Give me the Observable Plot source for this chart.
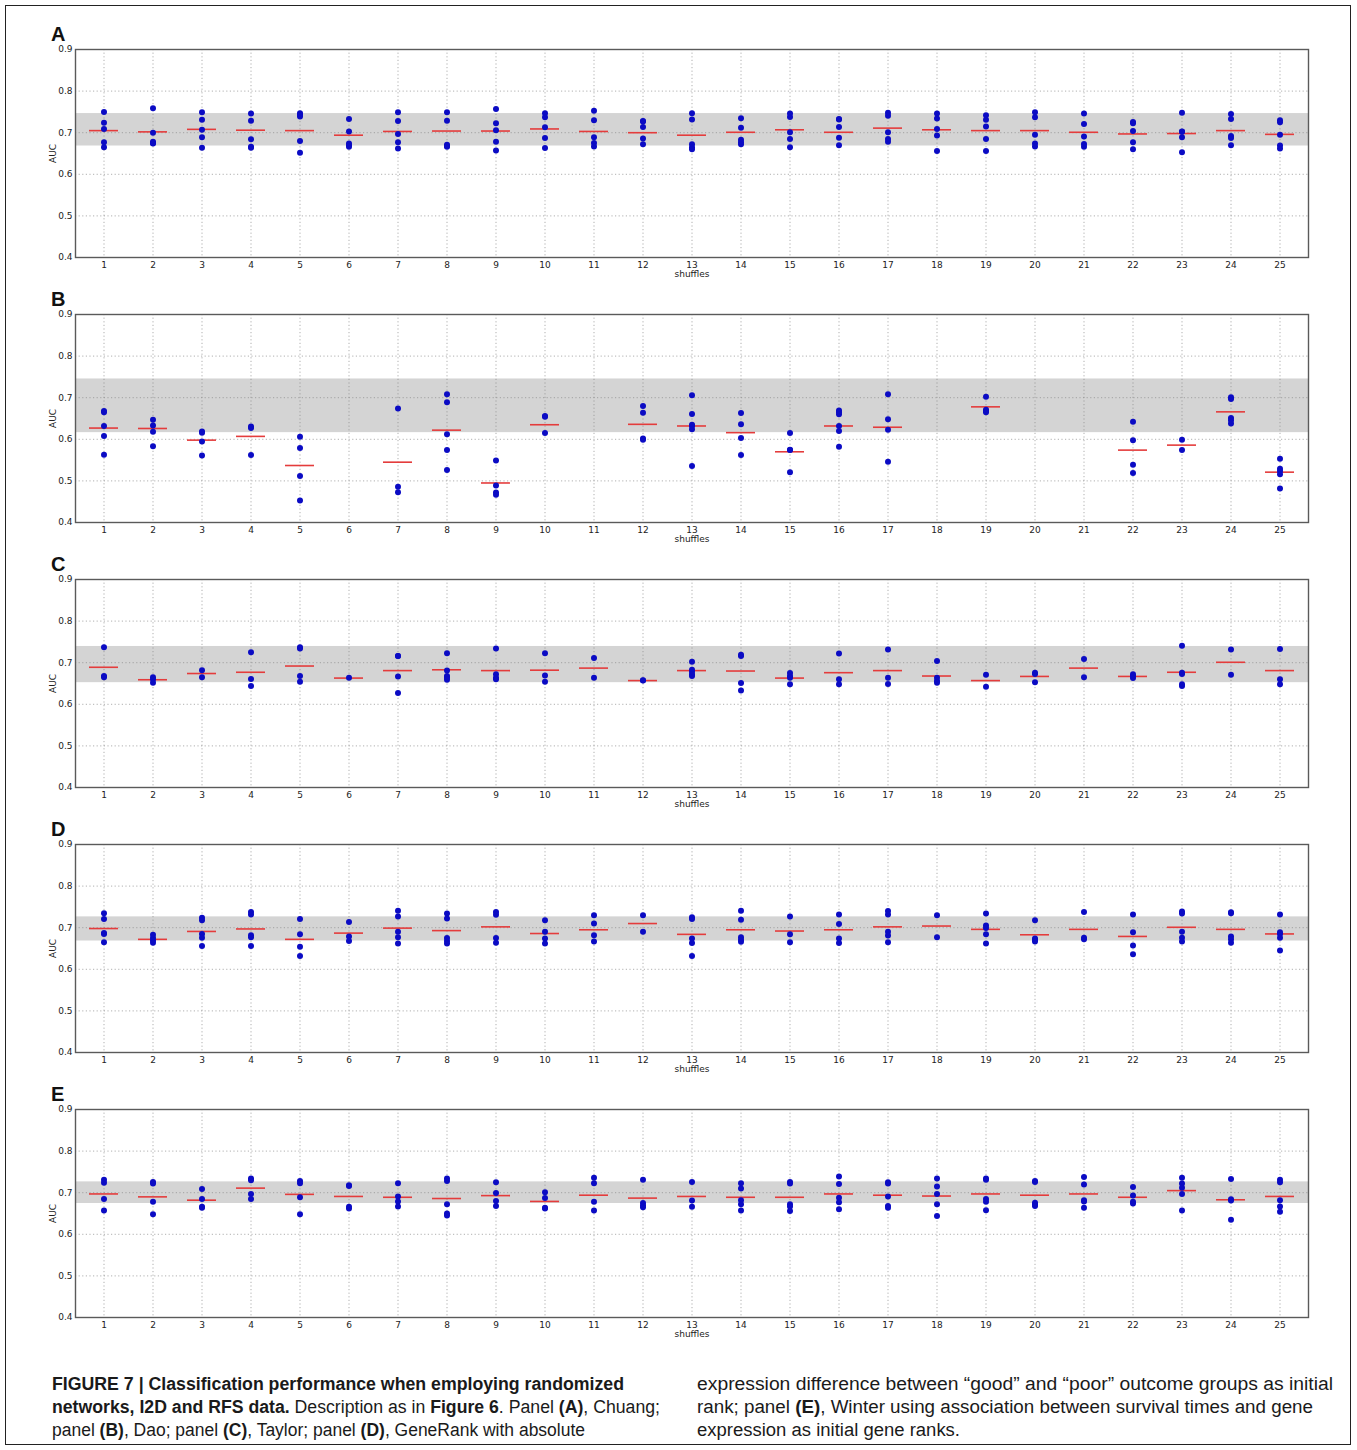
<!DOCTYPE html>
<html>
<head>
<meta charset="utf-8">
<script src="https://cdn.jsdelivr.net/npm/d3@7"></script>
<script src="https://cdn.jsdelivr.net/npm/@observablehq/plot@0.6"></script>
<style>
  body { margin: 0; background: #fff; }
  #page { position: relative; width: 1357px; height: 1450px; overflow: hidden; background: #fff; }
  .border { position: absolute; left: 5px; top: 5px; width: 1344px; height: 1438px; border: 1px solid #222; }
  .plabel { position: absolute; left: 51px; font: bold 20px/20px "Liberation Sans", Arial, sans-serif; color: #111; }
  .panel { position: absolute; left: 0; }
  .cap { position: absolute; font-family: "Liberation Sans Narrow", "Liberation Sans", Arial, sans-serif; font-size: 18px; line-height: 23px; color: #1a1a1a; }
  .ln { white-space: nowrap; }
  .ln span { display: inline-block; transform-origin: 0 50%; }
</style>
</head>
<body>
<div id="page">
  <div class="border"></div>
  <div class="cap" style="left:52px; top:1373px;">
    <div class="ln" data-w="572"><span><b>FIGURE 7 | Classification performance when employing randomized</b></span></div>
    <div class="ln" data-w="608"><span><b>networks, I2D and RFS data.</b> Description as in <b>Figure 6</b>. Panel <b>(A)</b>, Chuang;</span></div>
    <div class="ln" data-w="533"><span>panel <b>(B)</b>, Dao; panel <b>(C)</b>, Taylor; panel <b>(D)</b>, GeneRank with absolute</span></div>
  </div>
  <div class="cap" style="left:697px; top:1373px;">
    <div class="ln" data-w="636"><span>expression difference between “good” and “poor” outcome groups as initial</span></div>
    <div class="ln" data-w="616"><span>rank; panel <b>(E)</b>, Winter using association between survival times and gene</span></div>
    <div class="ln" data-w="263"><span>expression as initial gene ranks.</span></div>
  </div>
</div>
<script>
const shuffles = [1,2,3,4,5,6,7,8,9,10,11,12,13,14,15,16,17,18,19,20,21,22,23,24,25];
const yTicks = [0.4, 0.5, 0.6, 0.7, 0.8, 0.9];
const panelLetters = ["A", "B", "C", "D", "E"];

// Panel A – Chuang
const aucA = [
  [0.750,0.724,0.709,0.677,0.665],[0.759,0.700,0.678,0.675,0.674],[0.749,0.731,0.707,0.689,0.664],
  [0.746,0.729,0.684,0.666,0.664],[0.747,0.744,0.739,0.680,0.652],[0.733,0.703,0.674,0.670,0.666],
  [0.749,0.728,0.697,0.677,0.662],[0.749,0.729,0.671,0.668,0.666],[0.757,0.723,0.706,0.678,0.657],
  [0.747,0.737,0.713,0.687,0.663],[0.753,0.730,0.689,0.675,0.667],[0.728,0.727,0.714,0.686,0.672],
  [0.747,0.732,0.672,0.665,0.660],[0.735,0.712,0.683,0.677,0.672],[0.746,0.738,0.701,0.685,0.665],
  [0.733,0.732,0.714,0.688,0.670],[0.748,0.741,0.701,0.685,0.678],[0.746,0.734,0.709,0.693,0.656],
  [0.742,0.731,0.715,0.685,0.656],[0.749,0.737,0.695,0.674,0.667],[0.746,0.721,0.691,0.673,0.666],
  [0.726,0.723,0.704,0.677,0.660],[0.748,0.703,0.702,0.689,0.653],[0.745,0.733,0.692,0.687,0.670],
  [0.730,0.725,0.695,0.669,0.662]
];
const meanA = [0.705,0.702,0.708,0.706,0.705,0.694,0.703,0.704,0.704,0.709,0.703,0.700,0.694,0.701,0.707,0.701,0.711,0.707,0.705,0.705,0.701,0.697,0.698,0.705,0.696];
const bandA = [0.668, 0.746];

// Panel B – Dao
const aucB = [
  [0.668,0.665,0.632,0.608,0.563],[0.647,0.633,0.618,0.583],[0.619,0.616,0.595,0.561],
  [0.631,0.627,0.562],[0.606,0.579,0.512,0.453],[],
  [0.674,0.486,0.473],[0.708,0.689,0.612,0.574,0.526],[0.549,0.489,0.472,0.467],
  [0.656,0.654,0.615],[],[0.680,0.664,0.602,0.599],
  [0.706,0.661,0.635,0.632,0.624,0.536],[0.663,0.636,0.603,0.562],[0.615,0.575,0.574,0.521],
  [0.669,0.665,0.660,0.632,0.620,0.582],[0.708,0.648,0.623,0.546],[],
  [0.702,0.671,0.668,0.665],[],[],
  [0.642,0.598,0.539,0.519],[0.599,0.574],[0.701,0.697,0.651,0.646,0.638],
  [0.553,0.529,0.524,0.516,0.482]
];
const meanB = [0.627,0.626,0.598,0.607,0.537,null,0.545,0.622,0.495,0.635,null,0.636,0.632,0.616,0.570,0.632,0.629,null,0.678,null,null,0.574,0.586,0.666,0.521];
const bandB = [0.616, 0.745];

// Panel C – Taylor
const aucC = [
  [0.737,0.668,0.665],[0.665,0.660,0.652],[0.682,0.665],
  [0.725,0.661,0.644],[0.737,0.734,0.668,0.654],[0.664],
  [0.716,0.716,0.667,0.627],[0.723,0.681,0.668,0.664,0.659],[0.734,0.672,0.664,0.660],
  [0.723,0.669,0.654],[0.711,0.664],[0.658,0.657],
  [0.702,0.683,0.678,0.672,0.668],[0.719,0.716,0.651,0.633],[0.675,0.668,0.664,0.648],
  [0.722,0.660,0.648],[0.732,0.664,0.649],[0.704,0.664,0.656,0.652],
  [0.671,0.642],[0.676,0.673,0.653],[0.709,0.665],
  [0.672,0.668,0.663],[0.741,0.676,0.673,0.648,0.644],[0.732,0.671],
  [0.733,0.660,0.648]
];
const meanC = [0.689,0.659,0.674,0.677,0.692,0.663,0.681,0.683,0.681,0.682,0.687,0.657,0.681,0.680,0.663,0.676,0.681,0.668,0.657,0.667,0.687,0.667,0.677,0.701,0.681];
const bandC = [0.652, 0.739];

// Panel D – GeneRank, absolute expression difference
const aucD = [
  [0.735,0.721,0.687,0.685,0.665],[0.683,0.675,0.669,0.664],[0.724,0.718,0.685,0.676,0.656],
  [0.738,0.732,0.682,0.677,0.656],[0.721,0.684,0.654,0.632],[0.714,0.679,0.668],
  [0.741,0.727,0.690,0.677,0.662],[0.734,0.722,0.675,0.668,0.662],[0.738,0.731,0.675,0.664],
  [0.718,0.690,0.674,0.662],[0.730,0.710,0.682,0.667],[0.730,0.690],
  [0.725,0.721,0.674,0.663,0.632],[0.741,0.719,0.677,0.671,0.666],[0.727,0.684,0.665],
  [0.732,0.709,0.674,0.663],[0.740,0.732,0.690,0.681,0.665],[0.730,0.677],
  [0.734,0.705,0.699,0.684,0.662],[0.718,0.674,0.671,0.667],[0.738,0.676,0.672],
  [0.732,0.689,0.657,0.636],[0.739,0.734,0.690,0.676,0.667],[0.737,0.735,0.679,0.672,0.664],
  [0.732,0.689,0.685,0.676,0.645]
];
const meanD = [0.698,0.672,0.691,0.697,0.672,0.687,0.699,0.693,0.702,0.686,0.695,0.710,0.684,0.695,0.692,0.695,0.702,0.704,0.696,0.683,0.696,0.679,0.701,0.696,0.685];
const bandD = [0.668, 0.726];

// Panel E – Winter, survival association
const aucE = [
  [0.731,0.724,0.685,0.657],[0.726,0.722,0.678,0.648],[0.709,0.685,0.666,0.664],
  [0.734,0.730,0.697,0.685],[0.728,0.723,0.689,0.648],[0.718,0.716,0.666,0.662],
  [0.723,0.691,0.679,0.667],[0.734,0.728,0.672,0.650,0.645],[0.725,0.699,0.680,0.668],
  [0.701,0.687,0.664,0.662],[0.736,0.723,0.678,0.657],[0.731,0.675,0.669,0.665],
  [0.726,0.681,0.666],[0.723,0.710,0.682,0.672,0.657],[0.726,0.722,0.672,0.667,0.656],
  [0.739,0.721,0.688,0.677,0.660],[0.725,0.722,0.691,0.668,0.664],[0.734,0.715,0.697,0.672,0.644],
  [0.734,0.731,0.685,0.678,0.658],[0.728,0.726,0.676,0.672,0.668],[0.738,0.720,0.682,0.679,0.664],
  [0.714,0.693,0.678,0.674],[0.736,0.722,0.712,0.697,0.657],[0.733,0.684,0.681,0.635],
  [0.731,0.725,0.682,0.667,0.654]
];
const meanE = [0.697,0.690,0.682,0.711,0.696,0.691,0.689,0.686,0.693,0.679,0.694,0.687,0.691,0.689,0.689,0.697,0.694,0.692,0.697,0.694,0.697,0.689,0.705,0.683,0.691];
const bandE = [0.674, 0.726];

const panels = [
  {auc: aucA, mean: meanA, band: bandA},
  {auc: aucB, mean: meanB, band: bandB},
  {auc: aucC, mean: meanC, band: bandC},
  {auc: aucD, mean: meanD, band: bandD},
  {auc: aucE, mean: meanE, band: bandE}
];

const page = document.getElementById("page");
const gridStyle = {stroke: "#8a8a8a", strokeOpacity: 0.85, strokeWidth: 0.8, strokeDasharray: "1.2,2.4"};

panels.forEach((p, i) => {
  const pts = p.auc.flatMap((vals, j) => vals.map(v => ({shuffle: shuffles[j], auc: v})));
  const mns = p.mean.map((m, j) => ({shuffle: shuffles[j], mean: m})).filter(d => d.mean != null);
  const chart = Plot.plot({
    width: 1357, height: 245,
    marginLeft: 75, marginRight: 49, marginTop: 9, marginBottom: 28,
    style: {fontFamily: "DejaVu Sans, sans-serif", fontSize: "9px", color: "#222", background: "transparent"},
    x: {type: "band", domain: shuffles, padding: 0},
    y: {domain: [0.4, 0.9]},
    marks: [
      Plot.rect([p.band], {y1: d => d[0], y2: d => d[1], fill: "#d4d4d4"}),
      Plot.gridX(shuffles, gridStyle),
      Plot.gridY(yTicks, gridStyle),
      Plot.axisX(shuffles, {tickSize: 0, tickPadding: 4, label: "shuffles", labelAnchor: "center", labelArrow: "none", labelOffset: 19}),
      Plot.axisY(yTicks, {tickSize: 0, tickPadding: 3, tickFormat: d3.format(".1f"), label: "AUC", labelAnchor: "center", labelArrow: "none", labelOffset: 26}),
      Plot.tickY(mns, {x: "shuffle", y: "mean", stroke: "#e43c3c", strokeWidth: 1.6, inset: 10}),
      Plot.dot(pts, {x: "shuffle", y: "auc", r: 3, fill: "#0b0bc4", stroke: "none"}),
      Plot.frame({stroke: "#5a5a5a", strokeWidth: 1.4})
    ]
  });
  chart.classList.add("panel");
  chart.style.top = (40 + 265 * i) + "px";
  page.appendChild(chart);
  const lab = document.createElement("div");
  lab.className = "plabel";
  lab.style.top = (24 + 265 * i) + "px";
  lab.textContent = panelLetters[i];
  page.appendChild(lab);
});

// fit caption lines to their measured widths in the reference
document.querySelectorAll(".ln").forEach(ln => {
  const span = ln.querySelector("span");
  const w = span.getBoundingClientRect().width;
  const target = +ln.dataset.w;
  if (w > 0) span.style.transform = `scaleX(${target / w})`;
});
</script>
</body>
</html>
